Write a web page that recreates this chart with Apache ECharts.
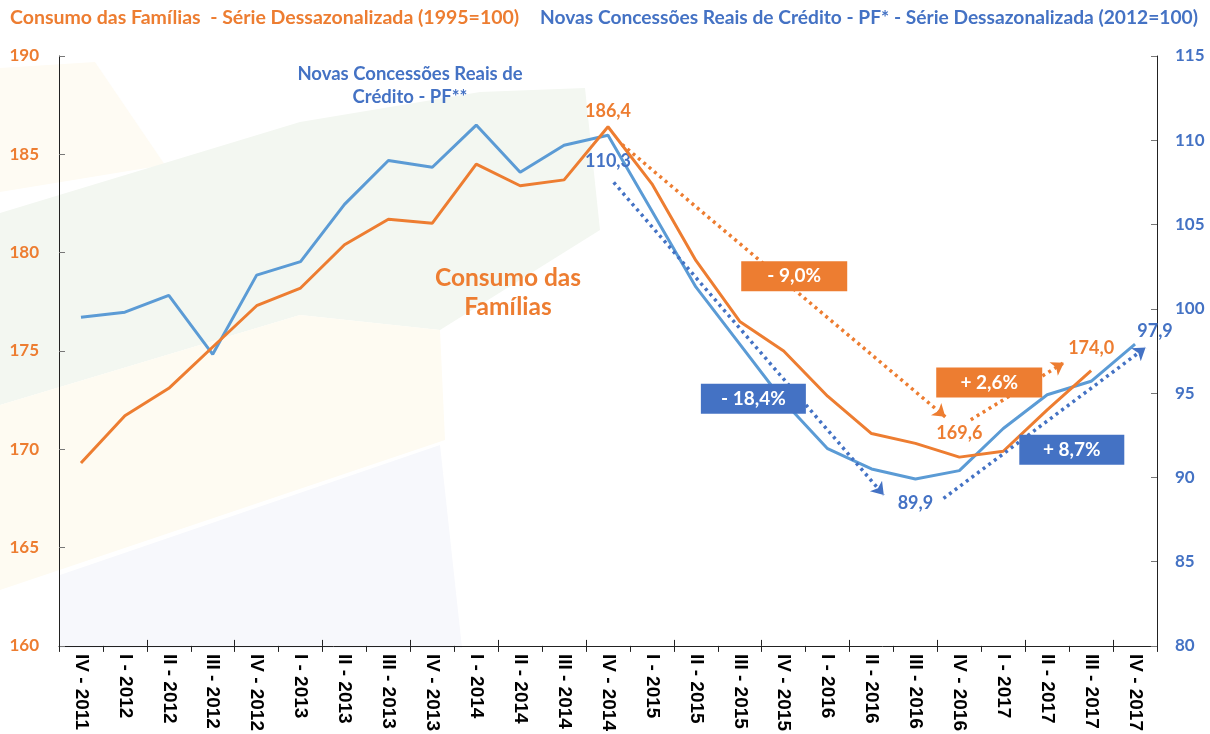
<!DOCTYPE html>
<html>
<head>
<meta charset="utf-8">
<script src="https://cdn.jsdelivr.net/npm/echarts@6/dist/echarts.min.js"></script>
<style>html,body{margin:0;padding:0;background:#fff}#c{width:1210px;height:734px}</style>
</head>
<body>
<div id="c"></div>
<script>
const categories = ['IV - 2011','I - 2012','II - 2012','III - 2012','IV - 2012','I - 2013','II - 2013','III - 2013','IV - 2013','I - 2014','II - 2014','III - 2014','IV - 2014','I - 2015','II - 2015','III - 2015','IV - 2015','I - 2016','II - 2016','III - 2016','IV - 2016','I - 2017','II - 2017','III - 2017','IV - 2017'];
const consumo = [169.3,171.7,173.1,175.2,177.3,178.2,180.4,181.7,181.5,184.5,183.4,183.7,186.4,183.5,179.6,176.5,175.0,172.7,170.8,170.3,169.6,169.9,172.0,174.0,null];
const credito = [99.5,99.8,100.8,97.3,102.0,102.8,106.2,108.8,108.4,110.9,108.1,109.7,110.3,105.8,101.3,97.9,94.5,91.7,90.5,89.9,90.4,92.9,94.9,95.7,97.9];
const leftTicks = {min:160, max:190, interval:5};
const rightTicks = {min:80, max:115, interval:5};
// value labels: index -> text
const consumoLabels = {12:'186,4', 20:'169,6', 23:'174,0'};
const creditoLabels = {12:'110,3', 19:'89,9', 24:'97,9'};
// annotation arrows (category position, axis value)
const consumoArrows = [[[12.32,185.5],[19.68,171.65]], [[20.26,171.5],[22.38,174.4]]];
const creditoArrows = [[[12.13,107.5],[18.28,88.95]], [[19.64,88.75],[24.24,97.7]]];
// annotation boxes (category position, axis value, text)
const consumoBoxes = [[16.24,178.8,'- 9,0%'], [20.68,173.4,'+ 2,6%']];
const creditoBoxes = [[15.31,94.66,'- 18,4%'], [22.56,91.64,'+ 8,7%']];

const ORANGE = '#ED7D31', BLUE = '#4472C4', LBLUE = '#5B9BD5';
const FONT = 'Lato';

const labelCfg = {
  consumo: {12:{position:'top',distance:7}, 20:{position:'top',distance:15}, 23:{position:'top',distance:13}},
  credito: {12:{position:'bottom',distance:17}, 19:{position:'bottom',distance:15}, 24:{position:'top',distance:4,offset:[20,0]}}
};

function withLabels(values, labels, cfg, color) {
  return values.map((v, i) => {
    if (labels[i] === undefined) return v;
    return {value: v, label: Object.assign({show:true, formatter: labels[i], color: color,
      fontFamily: FONT, fontWeight:'bold', fontSize:18}, cfg[i])};
  });
}

const chart = echarts.init(document.getElementById('c'), null, {renderer:'canvas'});
const option = {
  animation: false,
  backgroundColor: '#fff',
  grid: {left:59, right:53, top:56, bottom:86, containLabel:false},
  graphic: [
    {type:'polygon', z:-10, shape:{points:[[0,68],[95,62],[165,165],[0,192]]}, style:{fill:'#FEFBF3'}},
    {type:'polygon', z:-10, shape:{points:[[0,213],[300,122],[480,92],[585,88],[600,230],[440,330],[300,315],[0,405]]}, style:{fill:'#F3F7F1'}},
    {type:'polygon', z:-10, shape:{points:[[0,405],[300,315],[440,330],[445,440],[0,590]]}, style:{fill:'#FEFBF2'}},
    {type:'polygon', z:-10, shape:{points:[[60,575],[440,445],[462,648],[60,648]]}, style:{fill:'#F7F8FC'}},
    {type:'text', left:10, top:8, style:{text:'Consumo das Famílias  - Série Dessazonalizada (1995=100)', fill:ORANGE, font:'bold 19.5px '+FONT}},
    {type:'text', right:12, top:8, style:{text:'Novas Concessões Reais de Crédito - PF* - Série Dessazonalizada (2012=100)', fill:BLUE, font:'bold 19.2px '+FONT}},
    {type:'text', x:410, y:63, style:{text:'Novas Concessões Reais de\nCrédito - PF**', fill:BLUE, font:'bold 18.5px '+FONT, align:'center', lineHeight:23}},
    {type:'text', x:508, y:264, style:{text:'Consumo das\nFamílias', fill:ORANGE, font:'bold 24.5px '+FONT, align:'center', lineHeight:29}}
  ],
  xAxis: [
    {type:'category', data:categories, position:'bottom', boundaryGap:true,
      axisLine:{onZero:false, lineStyle:{color:'#222', width:1}},
      axisTick:{show:true, length:6, lineStyle:{color:'#222'}},
      axisLabel:{rotate:-90, interval:0, color:'#000', fontWeight:'bold', fontSize:19, fontFamily:'Liberation Sans', margin:8},
      splitLine:{show:false}},
    {type:'value', min:-0.5, max:24.5, show:false},
    {type:'category', data:categories, position:'bottom', boundaryGap:true,
      axisLine:{show:false, onZero:false}, axisLabel:{show:false},
      axisTick:{show:true, inside:true, length:6, lineStyle:{color:'#222'}}, splitLine:{show:false}}
  ],
  yAxis: [
    {type:'value', position:'left', min:leftTicks.min, max:leftTicks.max, interval:leftTicks.interval,
      axisLine:{show:true, onZero:false, lineStyle:{color:'#222'}},
      axisTick:{show:true, inside:true, length:6, lineStyle:{color:'#777'}},
      axisLabel:{color:ORANGE, fontSize:17, fontWeight:'bold', fontFamily:FONT, margin:20},
      splitLine:{show:false}},
    {type:'value', position:'right', min:rightTicks.min, max:rightTicks.max, interval:rightTicks.interval,
      axisLine:{show:true, onZero:false, lineStyle:{color:'#222'}},
      axisTick:{show:true, inside:true, length:6, lineStyle:{color:'#777'}},
      axisLabel:{color:BLUE, fontSize:17, fontWeight:'bold', fontFamily:FONT, margin:18},
      splitLine:{show:false}}
  ],
  series: [
    {name:'Novas Concessões', type:'line', xAxisIndex:0, yAxisIndex:1, data:withLabels(credito, creditoLabels, labelCfg.credito, BLUE),
      showSymbol:true, symbol:'circle', symbolSize:0, lineStyle:{color:LBLUE, width:3}, itemStyle:{color:LBLUE}, z:3},
    {name:'Consumo', type:'line', xAxisIndex:0, yAxisIndex:0, data:withLabels(consumo, consumoLabels, labelCfg.consumo, ORANGE),
      showSymbol:true, symbol:'circle', symbolSize:0, lineStyle:{color:ORANGE, width:3}, itemStyle:{color:ORANGE}, z:4},
    {type:'lines', coordinateSystem:'cartesian2d', xAxisIndex:1, yAxisIndex:0,
      data: consumoArrows.map(c => ({coords:c})), symbol:['none','arrow'], symbolSize:12,
      lineStyle:{color:ORANGE, width:3.5, type:[3,4], opacity:1}, z:5},
    {type:'lines', coordinateSystem:'cartesian2d', xAxisIndex:1, yAxisIndex:1,
      data: creditoArrows.map(c => ({coords:c})), symbol:['none','arrow'], symbolSize:12,
      lineStyle:{color:BLUE, width:3.5, type:[3,4], opacity:1}, z:5},
    {type:'scatter', xAxisIndex:1, yAxisIndex:0, data: consumoBoxes.map(b => ({value:[b[0],b[1]], name:b[2]})),
      symbol:'rect', symbolSize:[106,30], itemStyle:{color:ORANGE, opacity:1},
      label:{show:true, position:'inside', formatter:p=>p.name, color:'#fff', fontFamily:FONT, fontWeight:'bold', fontSize:19}, z:6},
    {type:'scatter', xAxisIndex:1, yAxisIndex:1, data: creditoBoxes.map(b => ({value:[b[0],b[1]], name:b[2]})),
      symbol:'rect', symbolSize:[105,30], itemStyle:{color:BLUE, opacity:1},
      label:{show:true, position:'inside', formatter:p=>p.name, color:'#fff', fontFamily:FONT, fontWeight:'bold', fontSize:19}, z:6}
  ]
};
chart.setOption(option);
</script>
</body>
</html>
